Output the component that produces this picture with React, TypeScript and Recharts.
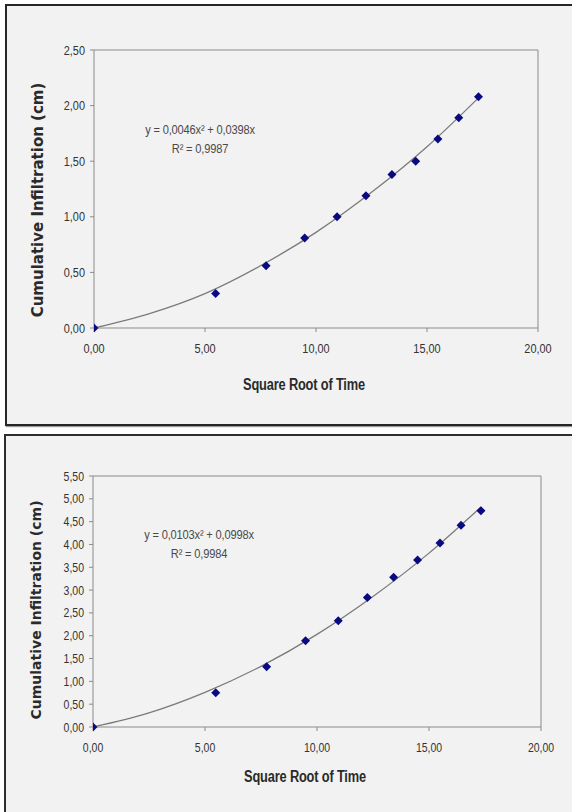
import {
  ComposedChart,
  Line,
  Scatter,
  XAxis,
  YAxis,
  ReferenceLine,
} from "recharts";

// square root of time (x) for every measurement
const sqrtTime = [0, 5.48, 7.75, 9.49, 10.95, 12.25, 13.42, 14.49, 15.49, 16.43, 17.32];
// cumulative infiltration (cm), upper and lower panel
const infiltrationTop = [0, 0.31, 0.56, 0.81, 1.0, 1.19, 1.38, 1.5, 1.7, 1.89, 2.08];
const infiltrationBottom = [0, 0.75, 1.32, 1.89, 2.33, 2.84, 3.28, 3.66, 4.03, 4.42, 4.74];

// polynomial trend lines
const trendX = [0, 2.5, 5, 7.5, 10, 12.5, 15, 17.32];
const trendTop = [0, 0.13, 0.31, 0.56, 0.86, 1.22, 1.63, 2.07];
const trendBottom = [0, 0.31, 0.76, 1.33, 2.03, 2.86, 3.81, 4.82];

const xTicks = [0, 5, 10, 15, 20];
const yTicksTop = [0, 0.5, 1, 1.5, 2, 2.5];
const yTicksBottom = [0, 0.5, 1, 1.5, 2, 2.5, 3, 3.5, 4, 4.5, 5, 5.5];

const fmt = (v: number) => v.toFixed(2).replace(".", ",");

const FONT = "'Liberation Sans', Arial, sans-serif";

// narrow tick text (the original uses a condensed face)
const NarrowTick = (props: any) => {
  const { x, y, payload, textAnchor, vertical } = props;
  return (
    <g transform={`translate(${x},${y})`}>
      <text
        transform="scale(0.84,1)"
        textAnchor={textAnchor}
        dy={vertical ? "0.36em" : "0.71em"}
        fontFamily={FONT}
        fontSize={props.fs}
        fill="#333333"
      >
        {fmt(payload.value)}
      </text>
    </g>
  );
};

const Diamond = (props: any) => {
  const { cx, cy } = props;
  if (cx == null || cy == null) return null;
  const r = 4.5;
  return (
    <polygon
      points={`${cx},${cy - r} ${cx + r},${cy} ${cx},${cy + r} ${cx - r},${cy}`}
      fill="#0a0a80"
    />
  );
};

type PanelProps = {
  top: number;
  height: number;
  margin: { top: number; right: number; bottom: number; left: number };
  points: number[];
  trend: number[];
  yTicks: number[];
  fs: number;
};

function InfiltrationChart({ top, height, margin, points, trend, yTicks, fs }: PanelProps) {
  const scatterData = sqrtTime.map((x, i) => ({ x, y: points[i] }));
  const trendData = trendX.map((x, i) => ({ x, y: trend[i] }));
  const yMax = yTicks[yTicks.length - 1];

  return (
    <div style={{ position: "absolute", left: 0, top }}>
      <ComposedChart width={572} height={height} margin={margin}>
        <XAxis
          type="number"
          dataKey="x"
          domain={[0, 20]}
          ticks={xTicks}
          tick={(p: any) => <NarrowTick {...p} fs={fs} />}
          tickSize={4}
          tickMargin={12}
          height={40}
          stroke="#8a8a8a"
          allowDataOverflow
        />
        <YAxis
          type="number"
          dataKey="y"
          domain={[0, yMax]}
          ticks={yTicks}
          tick={(p: any) => <NarrowTick {...p} fs={fs} vertical />}
          tickSize={4}
          tickMargin={5}
          width={50}
          stroke="#8a8a8a"
          interval={0}
        />
        <ReferenceLine y={yMax} stroke="#8a8a8a" />
        <ReferenceLine x={20} stroke="#8a8a8a" />
        <Line
          data={trendData}
          dataKey="y"
          type="monotone"
          stroke="#7a7a7a"
          strokeWidth={1.3}
          dot={false}
          activeDot={false}
          isAnimationActive={false}
        />
        <Scatter
          data={scatterData}
          dataKey="y"
          shape={<Diamond />}
          isAnimationActive={false}
        />
      </ComposedChart>
    </div>
  );
}

const eqStyle = {
  position: "absolute" as const,
  width: 180,
  textAlign: "center" as const,
  fontFamily: FONT,
  fontSize: 13.5,
  color: "#4a4a4a",
  lineHeight: "19px",
  transform: "scaleX(0.82)",
  letterSpacing: "-0.2px",
};

const xTitleStyle = {
  position: "absolute" as const,
  width: 200,
  textAlign: "center" as const,
  fontFamily: FONT,
  fontWeight: 700,
  fontSize: 16,
  color: "#2a2a2a",
  transform: "scaleX(0.8)",
  letterSpacing: "-0.2px",
};

const yTitleStyle = {
  position: "absolute" as const,
  width: 300,
  textAlign: "center" as const,
  fontFamily: "'DejaVu Sans', sans-serif",
  fontWeight: 700,
  color: "#2a2a2a",
  whiteSpace: "nowrap" as const,
  transform: "rotate(-90deg)",
};

export default function App() {
  return (
    <div
      style={{
        position: "absolute",
        left: 0,
        top: 0,
        width: 572,
        height: 812,
        overflow: "hidden",
        background: "#ffffff",
      }}
    >
      <div
        style={{
          position: "absolute",
          left: 5,
          top: 4,
          width: 600,
          height: 418,
          background: "#f2f2f2",
          border: "2px solid #262626",
          boxShadow: "1px 1px 1px #9a9a9a",
        }}
      />
      <div
        style={{
          position: "absolute",
          left: 4,
          top: 434,
          width: 600,
          height: 420,
          background: "#f2f2f2",
          border: "2px solid #2e2e2e",
          boxShadow: "1px 1px 1px #9a9a9a",
        }}
      />

      <InfiltrationChart
        top={0}
        height={420}
        margin={{ top: 50, right: 34, bottom: 52, left: 44 }}
        points={infiltrationTop}
        trend={trendTop}
        yTicks={yTicksTop}
        fs={13}
      />
      <InfiltrationChart
        top={430}
        height={382}
        margin={{ top: 46, right: 31, bottom: 45, left: 43 }}
        points={infiltrationBottom}
        trend={trendBottom}
        yTicks={yTicksBottom}
        fs={12.5}
      />

      <div style={{ ...eqStyle, left: 110, top: 120 }}>
        y = 0,0046x² + 0,0398x
        <br />R² = 0,9987
      </div>
      <div style={{ ...eqStyle, left: 109, top: 525 }}>
        y = 0,0103x² + 0,0998x
        <br />R² = 0,9984
      </div>

      <div style={{ ...xTitleStyle, left: 204, top: 376 }}>Square Root of Time</div>
      <div style={{ ...xTitleStyle, left: 205, top: 768 }}>Square Root of Time</div>

      <div style={{ ...yTitleStyle, fontSize: 15, left: 38 - 150, top: 201 - 10 }}>
        Cumulative Infiltration (cm)
      </div>
      <div style={{ ...yTitleStyle, fontSize: 14, left: 36 - 150, top: 611 - 9 }}>
        Cumulative Infiltration (cm)
      </div>
    </div>
  );
}
